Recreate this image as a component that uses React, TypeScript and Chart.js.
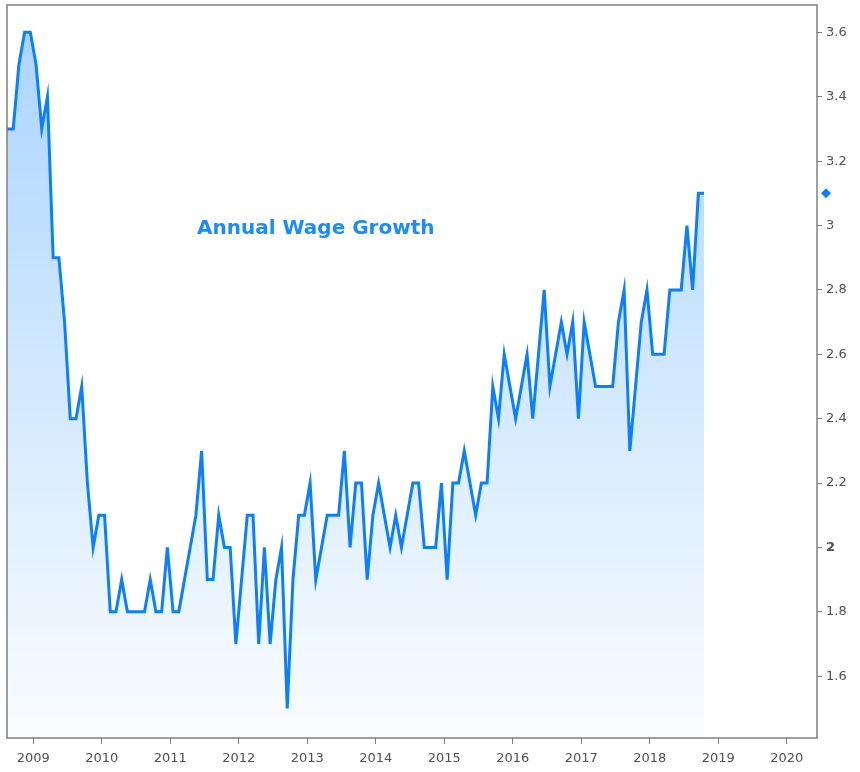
import { useEffect, useRef } from 'react';
import { Chart, registerables } from 'chart.js';

Chart.register(...registerables);

// Monthly annual wage growth (%)
const firstMonth2008 = 7; // August (0-based)
const wage2008 = [3.3, 3.3, 3.3, 3.5, 3.6];
const wage2009 = [3.6, 3.5, 3.3, 3.4, 2.9, 2.9, 2.7, 2.4, 2.4, 2.5, 2.2, 2.0];
const wage2010 = [2.1, 2.1, 1.8, 1.8, 1.9, 1.8, 1.8, 1.8, 1.8, 1.9, 1.8, 1.8];
const wage2011 = [2.0, 1.8, 1.8, 1.9, 2.0, 2.1, 2.3, 1.9, 1.9, 2.1, 2.0, 2.0];
const wage2012 = [1.7, 1.9, 2.1, 2.1, 1.7, 2.0, 1.7, 1.9, 2.0, 1.5, 1.9, 2.1];
const wage2013 = [2.1, 2.2, 1.9, 2.0, 2.1, 2.1, 2.1, 2.3, 2.0, 2.2, 2.2, 1.9];
const wage2014 = [2.1, 2.2, 2.1, 2.0, 2.1, 2.0, 2.1, 2.2, 2.2, 2.0, 2.0, 2.0];
const wage2015 = [2.2, 1.9, 2.2, 2.2, 2.3, 2.2, 2.1, 2.2, 2.2, 2.5, 2.4, 2.6];
const wage2016 = [2.5, 2.4, 2.5, 2.6, 2.4, 2.6, 2.8, 2.5, 2.6, 2.7, 2.6, 2.7];
const wage2017 = [2.4, 2.7, 2.6, 2.5, 2.5, 2.5, 2.5, 2.7, 2.8, 2.3, 2.5, 2.7];
const wage2018 = [2.8, 2.6, 2.6, 2.6, 2.8, 2.8, 2.8, 3.0, 2.8, 3.1, 3.1];

const seriesByYear: [number, number[]][] = [
  [2008, wage2008],
  [2009, wage2009],
  [2010, wage2010],
  [2011, wage2011],
  [2012, wage2012],
  [2013, wage2013],
  [2014, wage2014],
  [2015, wage2015],
  [2016, wage2016],
  [2017, wage2017],
  [2018, wage2018],
];

const xTickYears = [2009, 2010, 2011, 2012, 2013, 2014, 2015, 2016, 2017, 2018, 2019, 2020];
const yTickValues = [1.6, 1.8, 2.0, 2.2, 2.4, 2.6, 2.8, 3.0, 3.2, 3.4, 3.6];
const titleText = 'Annual Wage Growth';

const X_MIN = 2008.618;
const X_MAX = 2020.44;
const Y_MIN = 1.408;
const Y_MAX = 3.685;
const MONTH_POS = -0.5; // monthly value plotted half a month before month start

const LINE_COLOR = '#0a80ff';
const AXIS_COLOR = '#808080';
const LABEL_COLOR = '#505050';
const FONT = 'DejaVu Sans';

function buildPoints() {
  const pts: { x: number; y: number }[] = [];
  seriesByYear.forEach(([year, vals]) => {
    const start = year === 2008 ? firstMonth2008 : 0;
    vals.forEach((v, i) => {
      pts.push({ x: year + (start + i + MONTH_POS) / 12, y: v });
    });
  });
  return pts;
}

const decorPlugin = {
  id: 'decor',
  afterDraw(chart: any) {
    const { ctx, chartArea, scales } = chart;
    const { left, right, top, bottom } = chartArea;
    ctx.save();
    // plot frame
    ctx.strokeStyle = AXIS_COLOR;
    ctx.lineWidth = 1.5;
    ctx.strokeRect(left, top, right - left, bottom - top);
    // last value marker on right axis
    const data = chart.data.datasets[0].data as { x: number; y: number }[];
    const last = data[data.length - 1];
    const py = scales.y.getPixelForValue(last.y);
    const px = right + 9;
    ctx.fillStyle = LINE_COLOR;
    ctx.beginPath();
    ctx.moveTo(px, py - 5);
    ctx.lineTo(px + 5, py);
    ctx.lineTo(px, py + 5);
    ctx.lineTo(px - 5, py);
    ctx.closePath();
    ctx.fill();
    // title
    ctx.fillStyle = '#1a8cff';
    ctx.font = `bold 20px "${FONT}"`;
    ctx.textBaseline = 'middle';
    ctx.textAlign = 'left';
    ctx.fillText(titleText, left + 190, top + 224);
    ctx.restore();
  },
};

export default function App() {
  const ref = useRef<HTMLCanvasElement>(null);
  useEffect(() => {
    document.body.style.margin = '0';
    const canvas = ref.current!;
    const chart = new Chart(canvas, {
      type: 'line',
      data: {
        datasets: [
          {
            data: buildPoints(),
            borderColor: LINE_COLOR,
            borderWidth: 3,
            pointRadius: 0,
            tension: 0,
            fill: 'start',
            backgroundColor: (c: any) => {
              const { chart: ch } = c;
              const area = ch.chartArea;
              if (!area) return 'rgba(0,128,255,0.15)';
              const g = ch.ctx.createLinearGradient(0, area.top, 0, area.bottom);
              g.addColorStop(0, 'rgba(0,128,255,0.34)');
              g.addColorStop(1, 'rgba(0,128,255,0.02)');
              return g;
            },
          },
        ],
      },
      options: {
        responsive: false,
        animation: false,
        devicePixelRatio: 1,
        layout: { padding: { left: 7, top: 5, right: 0, bottom: 0 } },
        plugins: { legend: { display: false }, tooltip: { enabled: false } },
        scales: {
          x: {
            type: 'linear',
            min: X_MIN,
            max: X_MAX,
            afterBuildTicks: (s: any) => {
              s.ticks = xTickYears.map((v) => ({ value: v }));
            },
            afterFit: (s: any) => {
              s.height = 34;
              s.paddingLeft = 0;
              s.paddingRight = 0;
            },
            grid: {
              drawOnChartArea: false,
              drawTicks: true,
              tickLength: 6,
              color: AXIS_COLOR,
              lineWidth: 1,
            },
            border: { display: false },
            ticks: {
              autoSkip: false,
              maxRotation: 0,
              padding: 7,
              color: LABEL_COLOR,
              font: { family: FONT, size: 13 },
              callback: (v: any) => String(Math.round(Number(v))),
            },
          },
          y: {
            position: 'right',
            min: Y_MIN,
            max: Y_MAX,
            afterBuildTicks: (s: any) => {
              s.ticks = yTickValues.map((v) => ({ value: v }));
            },
            afterFit: (s: any) => {
              s.width = 43;
              s.paddingTop = 0;
              s.paddingBottom = 0;
            },
            grid: {
              drawOnChartArea: false,
              drawTicks: true,
              tickLength: 5,
              color: AXIS_COLOR,
              lineWidth: 1,
            },
            border: { display: false },
            ticks: {
              padding: 4,
              color: LABEL_COLOR,
              font: (c: any) => ({
                family: FONT,
                size: 13,
                weight: c.tick && Math.abs(c.tick.value - 2) < 1e-9 ? 'bold' : 'normal',
              }),
              callback: (v: any) => String(Number(Number(v).toFixed(1))),
            },
          },
        },
      },
      plugins: [decorPlugin],
    });
    return () => chart.destroy();
  }, []);
  return (
    <div style={{ width: 860, height: 772, background: '#fff' }}>
      <canvas ref={ref} width={860} height={772} style={{ display: 'block' }} />
    </div>
  );
}
